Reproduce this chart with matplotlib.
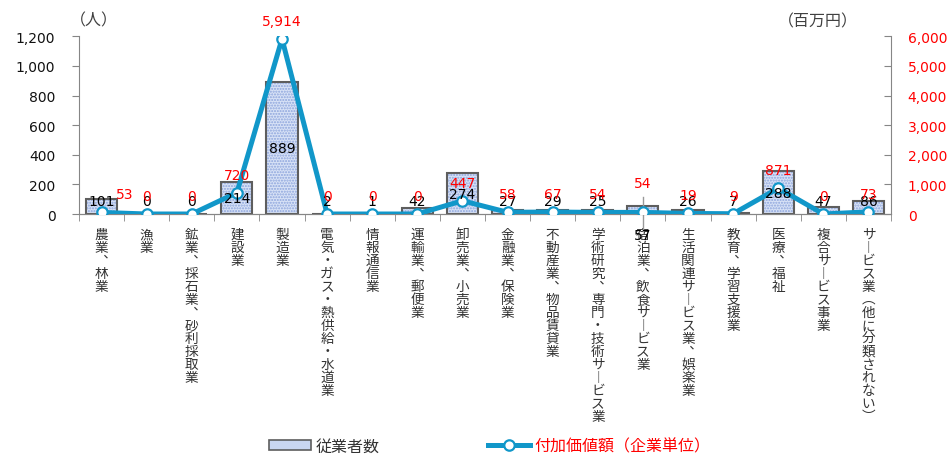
import matplotlib
matplotlib.use('Agg')
import matplotlib.pyplot as plt
import matplotlib.transforms as mtransforms
from matplotlib.patches import Patch
from matplotlib.lines import Line2D
import numpy as np

plt.rcParams['font.family'] = ['DejaVu Sans', 'Noto Sans CJK JP']
plt.rcParams['hatch.linewidth'] = 1.0

industries = ['農業、林業', '漁業', '鉱業、採石業、砂利採取業', '建設業', '製造業',
              '電気・ガス・熱供給・水道業', '情報通信業', '運輸業、郵便業', '卸売業、小売業',
              '金融業、保険業', '不動産業、物品賃貸業', '学術研究、専門・技術サービス業',
              '宿泊業、飲食サービス業', '生活関連サービス業、娯楽業', '教育、学習支援業',
              '医療、福祉', '複合サービス事業', 'サービス業（他に分類されない）']
employees = [101, 0, 0, 214, 889, 2, 1, 42, 274, 27, 29, 25, 57, 26, 7, 288, 47, 86]
value_added = [53, 0, 0, 720, 5914, 0, 0, 0, 447, 58, 67, 54, 54, 19, 9, 871, 0, 73]

W, H = 953, 456
LINE_C = '#1197c9'
GRAY = '#868686'
RED = '#ff0000'
CJK = ['Noto Sans CJK JP', 'DejaVu Sans']

# vertical presentation forms for stacked labels
VERT = {'、': '\ufe11', 'ー': '\ufe31', '（': '\ufe35', '）': '\ufe36'}

x = np.arange(len(industries))

fig = plt.figure(figsize=(W / 100, H / 100), dpi=100)
ax = fig.add_axes([0.0829, 0.5285, 0.8521, 0.3897])
ax2 = ax.twinx()

# bars: dotted fill first, then the outline on top
ax.bar(x, employees, width=0.69, color='#d8e2f6', edgecolor='#8ca4dc',
       linewidth=0, hatch='......', zorder=2)
ax.bar(x, employees, width=0.69, fill=False, edgecolor='#5e5e5e',
       linewidth=1.5, zorder=3)

ax2.plot(x, value_added, color=LINE_C, lw=3.6, marker='o', ms=7.5,
         mfc='white', mec=LINE_C, mew=1.6, zorder=4)

ax.set_xlim(-0.5, len(x) - 0.5)
ax.set_ylim(0, 1200)
ax2.set_ylim(0, 6000)
ax.set_yticks(range(0, 1201, 200))
ax2.set_yticks(range(0, 6001, 1000))
ax.yaxis.set_major_formatter(matplotlib.ticker.StrMethodFormatter('{x:,.0f}'))
ax2.yaxis.set_major_formatter(matplotlib.ticker.StrMethodFormatter('{x:,.0f}'))

for a in (ax, ax2):
    for s in a.spines.values():
        s.set_color(GRAY)
    a.spines['top'].set_visible(False)
ax.spines['right'].set_visible(False)
ax2.spines['left'].set_visible(False)

ax.tick_params(axis='y', direction='out', length=5, color=GRAY, pad=12,
               labelsize=10, labelcolor='#111111')
ax2.tick_params(axis='y', direction='in', length=5, color=GRAY, pad=12,
                labelsize=10, labelcolor=RED)

# boundary ticks between categories; names are written vertically below
ax.set_xticks([])
ax.set_xticks(np.arange(-0.5, len(x), 1.0), minor=True)
ax.tick_params(axis='x', which='minor', direction='out', length=5, color=GRAY)

trans = mtransforms.blended_transform_factory(ax.transData, fig.transFigure)
for i, name in enumerate(industries):
    for k, ch in enumerate(name):
        ax.text(i, 1 - (239 + 13 * k) / H, VERT.get(ch, ch), transform=trans,
                ha='center', va='baseline', fontsize=9.8, family=CJK,
                color='#333333', clip_on=False)

# employee labels
for i, v in enumerate(employees):
    if i == 12:
        continue
    ax2.annotate(f'{v:,}', (i, max(v / 2, 90)), xycoords=ax.transData,
                 ha='center', va='center', fontsize=10, color='black', zorder=6)
ax2.annotate(f'{employees[12]}', (12, -142), xycoords=ax.transData,
             ha='center', va='center', fontsize=10, color='black',
             annotation_clip=False, zorder=6)
ax.plot([12, 12], [115, -115], color='#999999', lw=1, clip_on=False, zorder=5)

# value-added labels
for i, v in enumerate(value_added):
    dx, dy = 0, 13
    if i == 0:
        dx = 17
    if i == 12:
        dy = 21
    ax2.annotate(f'{v:,}', (i, v), xytext=(dx, dy), textcoords='offset points',
                 ha='center', va='center', fontsize=10, color=RED, zorder=7)

fig.text(94 / W, 1 - 21 / H, '（人）', ha='center', va='center',
         fontsize=11.5, family=CJK, color='#404040')
fig.text(818 / W, 1 - 22 / H, '（百万円）', ha='center', va='center',
         fontsize=11.5, family=CJK, color='#404040')

handles = [Patch(facecolor='#c9d6f0', edgecolor='#5e5e5e', linewidth=1.2),
           Line2D([], [], color=LINE_C, lw=3.6, marker='o', ms=7.5,
                  mfc='white', mec=LINE_C, mew=1.6)]
leg = fig.legend(handles, ['従業者数', '付加価値額（企業単位）'], loc='center',
                 bbox_to_anchor=(0.514, 1 - 447 / H), ncol=2, frameon=False,
                 prop={'family': CJK, 'size': 11.5}, handlelength=2.6,
                 handleheight=0.55, columnspacing=6.8, handletextpad=0.3)
leg.get_texts()[0].set_color('#333333')
leg.get_texts()[1].set_color(RED)

fig.savefig('out.png', dpi=100)
